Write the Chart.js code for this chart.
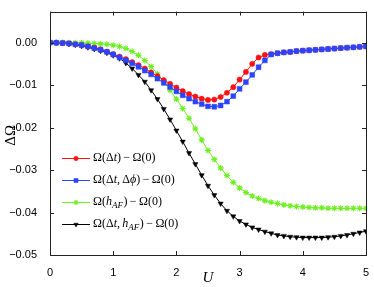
<!DOCTYPE html>
<html><head><meta charset="utf-8">
<script src="https://cdn.jsdelivr.net/npm/chart.js@4/dist/chart.umd.min.js"></script>
<style>html,body{margin:0;padding:0;background:#fff;}</style>
</head><body>
<canvas id="c" width="374" height="287"></canvas>
<script>
const U = [0,0.1,0.2,0.3,0.4,0.5,0.6,0.7,0.8,0.9,1.0,1.1,1.2,1.3,1.4,1.5,1.6,1.7,1.8,1.9,2.0,2.1,2.2,2.3,2.4,2.5,2.6,2.7,2.8,2.9,3.0,3.1,3.2,3.3,3.4,3.5,3.6,3.7,3.8,3.9,4.0,4.1,4.2,4.3,4.4,4.5,4.6,4.7,4.8,4.9,5.0];
const omegaDt = [0,-0.00003,-0.0001,-0.0002,-0.0004,-0.0006,-0.0009,-0.0012,-0.0016,-0.0021,-0.0027,-0.0033,-0.0039,-0.0046,-0.0053,-0.0061,-0.0070,-0.0079,-0.0088,-0.0097,-0.0106,-0.0114,-0.0121,-0.0127,-0.0132,-0.0135,-0.0134,-0.0128,-0.0118,-0.0105,-0.0087,-0.0069,-0.0050,-0.0035,-0.0029,-0.0027,-0.0025,-0.0023,-0.0022,-0.0020,-0.0019,-0.0018,-0.0017,-0.0016,-0.0015,-0.0014,-0.0013,-0.0012,-0.0011,-0.0010,-0.0009];
const omegaDtDphi = [0,-0.00003,-0.0001,-0.0002,-0.0004,-0.0006,-0.0009,-0.0013,-0.0017,-0.0022,-0.0028,-0.0035,-0.0042,-0.0049,-0.0057,-0.0066,-0.0075,-0.0085,-0.0095,-0.0105,-0.0115,-0.0124,-0.0132,-0.0139,-0.0145,-0.0150,-0.0151,-0.0148,-0.0139,-0.0126,-0.0109,-0.0093,-0.0076,-0.0058,-0.0042,-0.0028,-0.0025,-0.0023,-0.0022,-0.0020,-0.0019,-0.0018,-0.0017,-0.0016,-0.0015,-0.0014,-0.0013,-0.0012,-0.0011,-0.0010,-0.0009];
const omegaHaf = [0,0,0,-0.00002,-0.00004,-0.00006,-0.0001,-0.0002,-0.0003,-0.0004,-0.0006,-0.0009,-0.0014,-0.0021,-0.0030,-0.0042,-0.0056,-0.0074,-0.0092,-0.0112,-0.0133,-0.0155,-0.0178,-0.0203,-0.0229,-0.0254,-0.0275,-0.0295,-0.0313,-0.0329,-0.0342,-0.0353,-0.0361,-0.0367,-0.0372,-0.0376,-0.0379,-0.0382,-0.0384,-0.0386,-0.0387,-0.0388,-0.0389,-0.0389,-0.0390,-0.0390,-0.0390,-0.0390,-0.0390,-0.0390,-0.0390];
const omegaDtHaf = [0,-0.00003,-0.0001,-0.0003,-0.0005,-0.0008,-0.0011,-0.0015,-0.0019,-0.0024,-0.0030,-0.0037,-0.0048,-0.0061,-0.0076,-0.0092,-0.0112,-0.0133,-0.0156,-0.0181,-0.0207,-0.0233,-0.0260,-0.0286,-0.0312,-0.0337,-0.0359,-0.0379,-0.0396,-0.0409,-0.0420,-0.0428,-0.0435,-0.0440,-0.0445,-0.0449,-0.0453,-0.0455,-0.0457,-0.0458,-0.0459,-0.0459,-0.0459,-0.0459,-0.0458,-0.0457,-0.0455,-0.0453,-0.0450,-0.0447,-0.0444];
const xTicks = [0,1,2,3,4,5];
const yTicks = [-0.05,-0.04,-0.03,-0.02,-0.01,0];
const yTickLabels = ['\u22120.05','\u22120.04','\u22120.03','\u22120.02','\u22120.01','0.00'];
const legendLabels = [
  [{t:'\u03A9(\u0394'},{t:'t',it:1},{t:')\u2009\u2212\u2009\u03A9(0)'}],
  [{t:'\u03A9(\u0394'},{t:'t',it:1},{t:',\u2009\u0394'},{t:'\u03D5',it:1},{t:')\u2009\u2212\u2009\u03A9(0)'}],
  [{t:'\u03A9('},{t:'h',it:1},{t:'AF',it:1,sub:1},{t:')\u2009\u2212\u2009\u03A9(0)'}],
  [{t:'\u03A9(\u0394'},{t:'t',it:1},{t:',\u2009'},{t:'h',it:1},{t:'AF',it:1,sub:1},{t:')\u2009\u2212\u2009\u03A9(0)'}]
];

const pts = arr => U.map((u,i)=>({x:u,y:arr[i]}));
const RED='#ff1010', BLUE='#2a45ff', GREEN='#6cf020', BLACK='#000000';
const datasets = [
  {data:pts(omegaDt), borderColor:RED, backgroundColor:RED, pointStyle:'circle', pointRadius:2.6, pointBorderWidth:0.5, order:2},
  {data:pts(omegaDtDphi), borderColor:BLUE, backgroundColor:BLUE, pointStyle:'rect', pointRadius:3.4, pointBorderWidth:0.5, order:1},
  {data:pts(omegaHaf), borderColor:GREEN, backgroundColor:GREEN, pointStyle:'star', pointRadius:3, pointBorderWidth:1.1, order:3},
  {data:pts(omegaDtHaf), borderColor:BLACK, backgroundColor:BLACK, pointStyle:'triangle', pointRotation:180, pointRadius:3, pointBorderWidth:0.5, order:4}
];
datasets.forEach(d=>{d.borderWidth=1; d.showLine=true;});

function drawRich(ctx, parts, x, y, size){
  let cx = x;
  ctx.textBaseline='middle'; ctx.textAlign='left';
  for(const p of parts){
    const fs = p.sub ? size*0.75 : size;
    ctx.font = (p.it?'italic ':'') + fs + 'px "Liberation Serif", "DejaVu Serif", serif';
    ctx.fillText(p.t, cx, y + (p.sub ? size*0.3 : 0));
    cx += ctx.measureText(p.t).width + (p.sub ? 0.5 : 0);
  }
}

const boxPlugin = {
  id:'box',
  afterDraw(chart){
    const {ctx, chartArea:a, scales:{x,y}} = chart;
    ctx.save();
    ctx.strokeStyle='#222'; ctx.lineWidth=1;
    ctx.strokeRect(Math.round(a.left)+0.5, Math.round(a.top)+0.5, Math.round(a.right-a.left), Math.round(a.bottom-a.top));
    ctx.beginPath();
    xTicks.forEach(v=>{const px=Math.round(x.getPixelForValue(v))+0.5; ctx.moveTo(px,a.bottom); ctx.lineTo(px,a.bottom-4); ctx.moveTo(px,a.top); ctx.lineTo(px,a.top+4);});
    yTicks.forEach(v=>{const py=Math.round(y.getPixelForValue(v))+0.5; ctx.moveTo(a.left,py); ctx.lineTo(a.left+4,py); ctx.moveTo(a.right,py); ctx.lineTo(a.right-4,py);});
    ctx.stroke();
    ctx.fillStyle='#000';
    ctx.font='italic 15px "Liberation Serif", serif'; ctx.textAlign='center'; ctx.textBaseline='middle';
    ctx.fillText('U', (a.left+a.right)/2, 278);
    ctx.save(); ctx.translate(11, (a.top+a.bottom)/2+2); ctx.rotate(-Math.PI/2);
    ctx.font='15px "Liberation Serif", serif'; ctx.fillText('\u0394\u03A9',0,0); ctx.restore();
    const ys=[158,180,202,224];
    datasets.forEach((d,i)=>{
      const yy=ys[i];
      ctx.strokeStyle=d.borderColor; ctx.lineWidth=1;
      ctx.beginPath(); ctx.moveTo(62,yy+0.5); ctx.lineTo(90,yy+0.5); ctx.stroke();
      ctx.fillStyle=d.backgroundColor; ctx.lineWidth=d.pointBorderWidth;
      Chart.helpers.drawPoint(ctx,{pointStyle:d.pointStyle, rotation:d.pointRotation||0, radius:d.pointRadius*0.85, borderWidth:d.pointBorderWidth}, 76, yy+0.5);
      ctx.fillStyle='#000';
      drawRich(ctx, legendLabels[i], 93, yy, 12);
    });
    ctx.restore();
  }
};

new Chart(document.getElementById('c'), {
  type:'scatter',
  data:{datasets},
  options:{
    responsive:false, animation:false,
    layout:{padding:{top:10,right:8,left:0,bottom:0}},
    plugins:{legend:{display:false}, tooltip:{enabled:false}},
    scales:{
      x:{type:'linear', min:0, max:5,
        grid:{display:false}, border:{display:false},
        afterBuildTicks(s){s.ticks = xTicks.map(v=>({value:v}));},
        afterFit(s){s.height=32;},
        ticks:{padding:3, color:'#000', font:{family:'"Liberation Sans", Arial, sans-serif', size:11}, maxRotation:0}
      },
      y:{type:'linear', min:-0.05, max:0.0073,
        grid:{display:false}, border:{display:false},
        afterBuildTicks(s){s.ticks = yTicks.map(v=>({value:v}));},
        afterFit(s){s.width=50;},
        ticks:{padding:5, color:'#000', font:{family:'"Liberation Sans", Arial, sans-serif', size:11},
          callback:(v)=>{const i=yTicks.findIndex(t=>Math.abs(t-v)<1e-9); return i>=0?yTickLabels[i]:'';}}
      }
    }
  },
  plugins:[boxPlugin]
});
</script>
</body></html>
